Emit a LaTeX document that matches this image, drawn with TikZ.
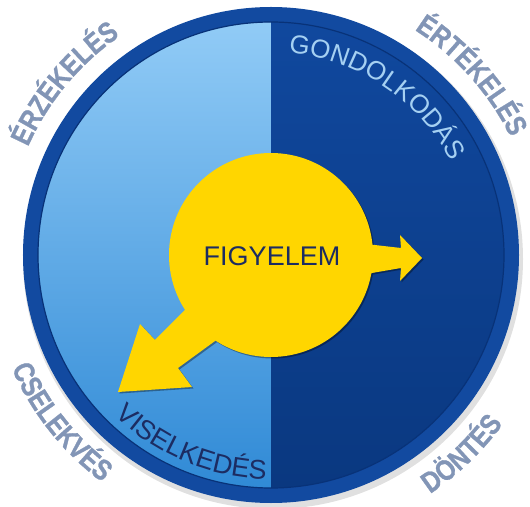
\documentclass[tikz,border=0pt]{standalone}
\usepackage{fontspec}
\setmainfont{Liberation Sans}
\newfontfamily\narrowfont{Liberation Sans}[FakeStretch=0.84, BoldFeatures={FakeBold=1.0}]
\usetikzlibrary{decorations.text}
\definecolor{ringblue}{RGB}{18,74,160}
\definecolor{ringdark}{RGB}{8,50,120}
\definecolor{lefttop}{RGB}{145,203,246}
\definecolor{leftbottom}{RGB}{48,138,214}
\definecolor{righttop}{RGB}{16,72,158}
\definecolor{rightbottom}{RGB}{10,56,128}
\definecolor{figyellow}{RGB}{255,214,0}
\definecolor{labelgray}{RGB}{130,149,182}
\definecolor{thinklight}{RGB}{165,208,242}
\definecolor{navytext}{RGB}{28,44,98}
\newcommand{\outerfont}{\narrowfont\bfseries\fontsize{29}{32}\selectfont}
\newcommand{\innerfont}{\fontsize{26}{29}\selectfont}
\newcommand{\lowerfont}{\fontsize{27}{30}\selectfont}

\begin{document}
\begin{tikzpicture}[x=1pt, y=1pt,
    outerlabel/.style={decorate, decoration={text along path, text align=center, text color=labelgray, text={|\outerfont|#1}}},
    innerlabel/.style 2 args={decorate, decoration={text along path, text align=center, text color=#1, text={#2}}}]
    % 0. keret
    \useasboundingbox (-271,-251) rectangle (259,255);
    
    % 1. árnyék és a két félkör
    \fill[black, opacity=0.12] (2,-4) circle (250);
    \shade[top color=lefttop, bottom color=leftbottom] (90:233) arc[start angle=90, end angle=270, radius=233] -- cycle;
    \shade[top color=righttop, bottom color=rightbottom] (90:233) arc[start angle=90, end angle=-90, radius=233] -- cycle;
    
    % 2. külső gyűrű
    \draw[ringblue, line width=15pt] (0,0) circle (240.5);
    \draw[ringdark, line width=1.2pt] (0,0) circle (233);
    
    % 3. sárga kör a két nyíllal (előbb az árnyéka)
    \foreach \d/\c/\op in {1.5/black/0.35, 0/figyellow/1} {
        \fill[\c, opacity=\op, shift={(\d,-\d)}]
            (0,0) circle (102)
            (95,-19) -- (130,-13) -- (129,-26) -- (151,-3) -- (129,20) -- (130,7) -- (95,11) -- cycle
            (-78,-47) -- (-116,-85) -- (-131,-69) -- (-153,-137) -- (-79,-132) -- (-93,-113) -- (-45,-78) -- cycle;
    }
    \node[text=navytext, font=\fontsize{27}{30}\selectfont] (figyelem) at (1,-1) {FIGYELEM};
    
    % 4. feliratok a körön belül
    \path[innerlabel={thinklight}{|\innerfont|GONDOLKODÁS}] (116.3:203) arc[start angle=116.3, end angle=-3.7, radius=203];
    \path[innerlabel={navytext}{|\lowerfont|VISELKEDÉS}] (207:224) arc[start angle=207, end angle=287.5, radius=224];
    
    % 5. feliratok a körön kívül
    \path[outerlabel={ÉRZÉKELÉS}] (175:266) arc[start angle=175, end angle=105.6, radius=266];
    \path[outerlabel={ÉRTÉKELÉS}] (76.8:267) arc[start angle=76.8, end angle=6.8, radius=267];
    \path[outerlabel={CSELEKVÉS}] (183.5:283) arc[start angle=183.5, end angle=253.5, radius=283];
    \path[outerlabel={DÖNTÉS}] (-81.2:287) arc[start angle=-81.2, end angle=-11.2, radius=287];
\end{tikzpicture}
\end{document}
